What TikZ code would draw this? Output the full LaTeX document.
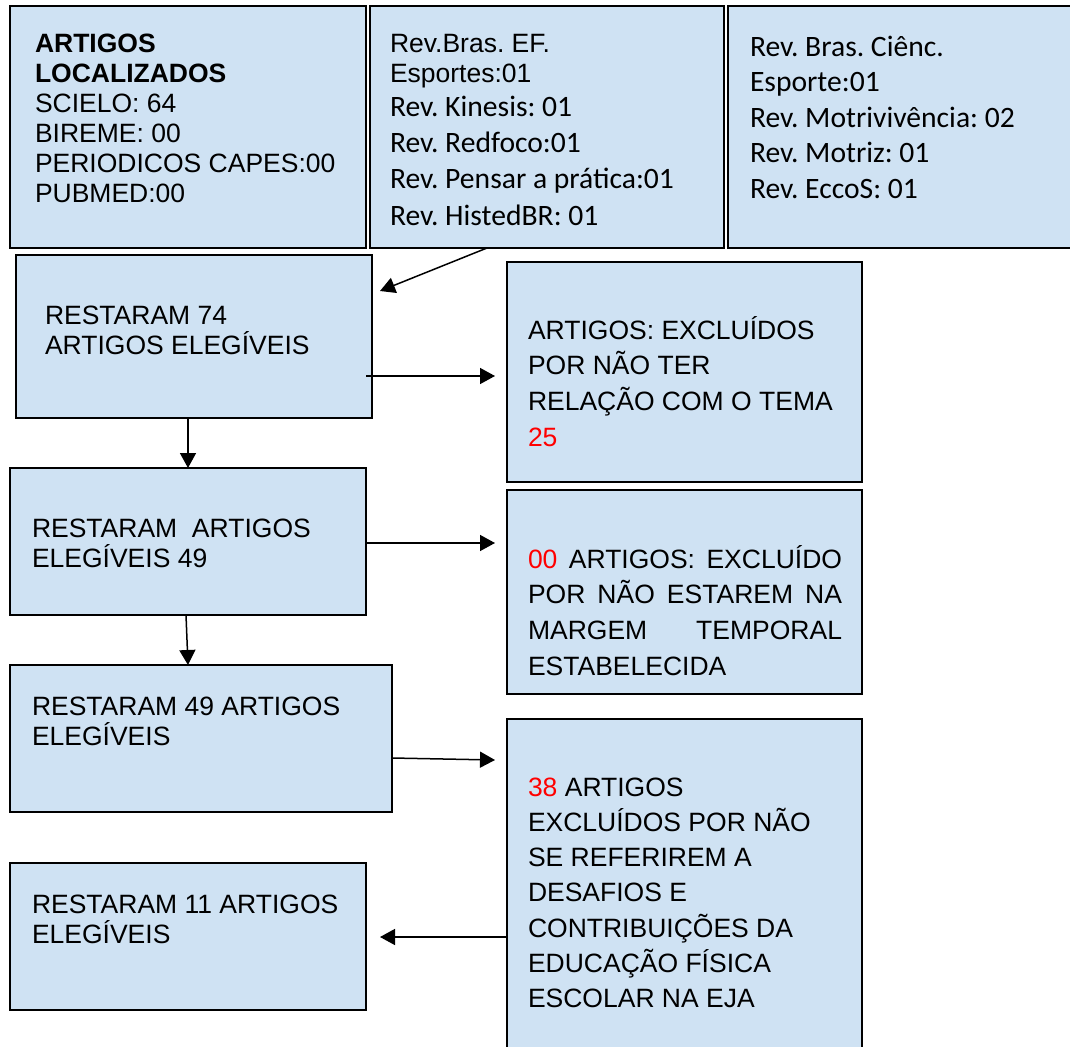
\documentclass[tikz,border=0pt]{standalone}
\usepackage{fontspec}
\setmainfont{Liberation Sans}
\newfontfamily\calfont{Carlito}
\usetikzlibrary{arrows.meta,calc}
\definecolor{boxblue}{HTML}{CFE2F3}
\frenchspacing
\newcommand\arsize{\fontsize{26.5}{30}\selectfont}
\newcommand\arwide{\fontsize{26.5}{35.7}\selectfont}
\newcommand\arwider{\fontsize{26.5}{35.3}\selectfont}
\newcommand\calsize{\calfont\fontsize{29.6}{36.4}\selectfont}
\newcommand\calsizeb{\calfont\fontsize{29.6}{35.5}\selectfont}
\newcommand\fst{\rule{0pt}{26pt}}
\newcommand\jline[1]{\makebox[314pt][s]{#1}}
\begin{document}
\begin{tikzpicture}[x=1pt,y=-1pt,
  box/.style={draw=black,fill=boxblue,line width=1.5pt,anchor=north west,inner sep=0pt,outer sep=0pt},
  txt/.style={anchor=north west,inner sep=0pt,outer sep=0pt,align=left},
  ar/.style={font=\arsize},
  arw/.style={font=\arwide},
  arx/.style={font=\arwider},
  cal/.style={font=\calsize},
  calb/.style={font=\calsizeb},
  arr/.style={line width=1.5pt,-{Triangle[length=15pt,width=16pt]}}]
\useasboundingbox (0,0) rectangle (1070,1046);
\fill[white] (0,0) rectangle (1070,1046);

% top row
\node[box,minimum width=356pt,minimum height=242pt] (b1) at (10,6) {};
\node[box,minimum width=354pt,minimum height=242pt] (b2) at (370,6) {};
\node[box,minimum width=350pt,minimum height=242pt] (b3) at (728,6) {};

\node[txt,ar] (t1) at (35,26) {\fst\textbf{ARTIGOS}\\\textbf{LOCALIZADOS}\\SCIELO: 64\\BIREME: 00\\PERIODICOS CAPES:00\\PUBMED:00};
\node[txt,ar] (t2a) at (390,27) {\fst Rev.Bras. EF.\\Esportes:01};
\node[txt,cal] (t2b) at (390,90) {\fst Rev. Kinesis: 01\\Rev. Redfoco:01\\Rev. Pensar a prática:01\\Rev. HistedBR: 01};
\node[txt,calb] (t3) at (750,30) {\fst Rev. Bras. Ciênc.\\Esporte:01\\Rev. Motrivivência: 02\\Rev. Motriz: 01\\Rev. EccoS: 01};

% left column
\node[box,minimum width=356pt,minimum height=163pt] (bA) at (16,255) {};
\node[txt,ar] (tA) at (45,298) {\fst RESTARAM 74\\ARTIGOS ELEGÍVEIS};

\node[box,minimum width=356pt,minimum height=147pt] (bB) at (10,468) {};
\node[txt,ar] (tB) at (32,511) {\fst RESTARAM\ \ ARTIGOS\\ELEGÍVEIS 49};

\node[box,minimum width=382pt,minimum height=147pt] (bC) at (10,665) {};
\node[txt,ar] (tC) at (32,689) {\fst RESTARAM 49 ARTIGOS\\ELEGÍVEIS};

\node[box,minimum width=356pt,minimum height=147pt] (bD) at (10,863) {};
\node[txt,ar] (tD) at (32,887) {\fst RESTARAM 11 ARTIGOS\\ELEGÍVEIS};

% right column
\node[box,minimum width=355pt,minimum height=220pt] (r1) at (507,262) {};
\node[txt,arw] (tr1) at (528,313) {\fst ARTIGOS: EXCLUÍDOS\\POR NÃO TER\\RELAÇÃO COM O TEMA\\\textcolor{red}{25}};

\node[box,minimum width=355pt,minimum height=204pt] (r2) at (507,490) {};
\node[txt,arw] (tr2) at (528,542) {\fst\jline{\textcolor{red}{00} ARTIGOS: EXCLUÍDO}\\\jline{POR NÃO ESTAREM NA}\\\jline{MARGEM TEMPORAL}\\ESTABELECIDA};

\node[box,minimum width=355pt,minimum height=345pt] (r3) at (507,719) {};
\node[txt,arx] (tr3) at (528,770) {\fst\textcolor{red}{38} ARTIGOS\\EXCLUÍDOS POR NÃO\\SE REFERIREM A\\DESAFIOS E\\CONTRIBUIÇÕES DA\\EDUCAÇÃO FÍSICA\\ESCOLAR NA EJA};

% connectors
\draw[arr] ($(b2.south west)+(117,0)$) -- ($(bA.north east)+(8,36)$);
\draw[arr] ($(bA.north east)+(-6,121)$) -- ($(r1.north west)+(-12,114)$);
\draw[arr] ($(bA.south west)+(172,0)$) -- ($(bB.north west)+(178,0)$);
\draw[arr] ($(bB.north east)+(0,75)$) -- ($(r2.north west)+(-12,53)$);
\draw[arr] ($(bB.south west)+(176,0)$) -- ($(bC.north west)+(178,0)$);
\draw[arr] ($(bC.north east)+(0,93)$) -- ($(r3.north west)+(-12,41)$);
\draw[arr] ($(r3.north west)+(0,218)$) -- ($(bD.north east)+(14,74)$);
\end{tikzpicture}
\end{document}
